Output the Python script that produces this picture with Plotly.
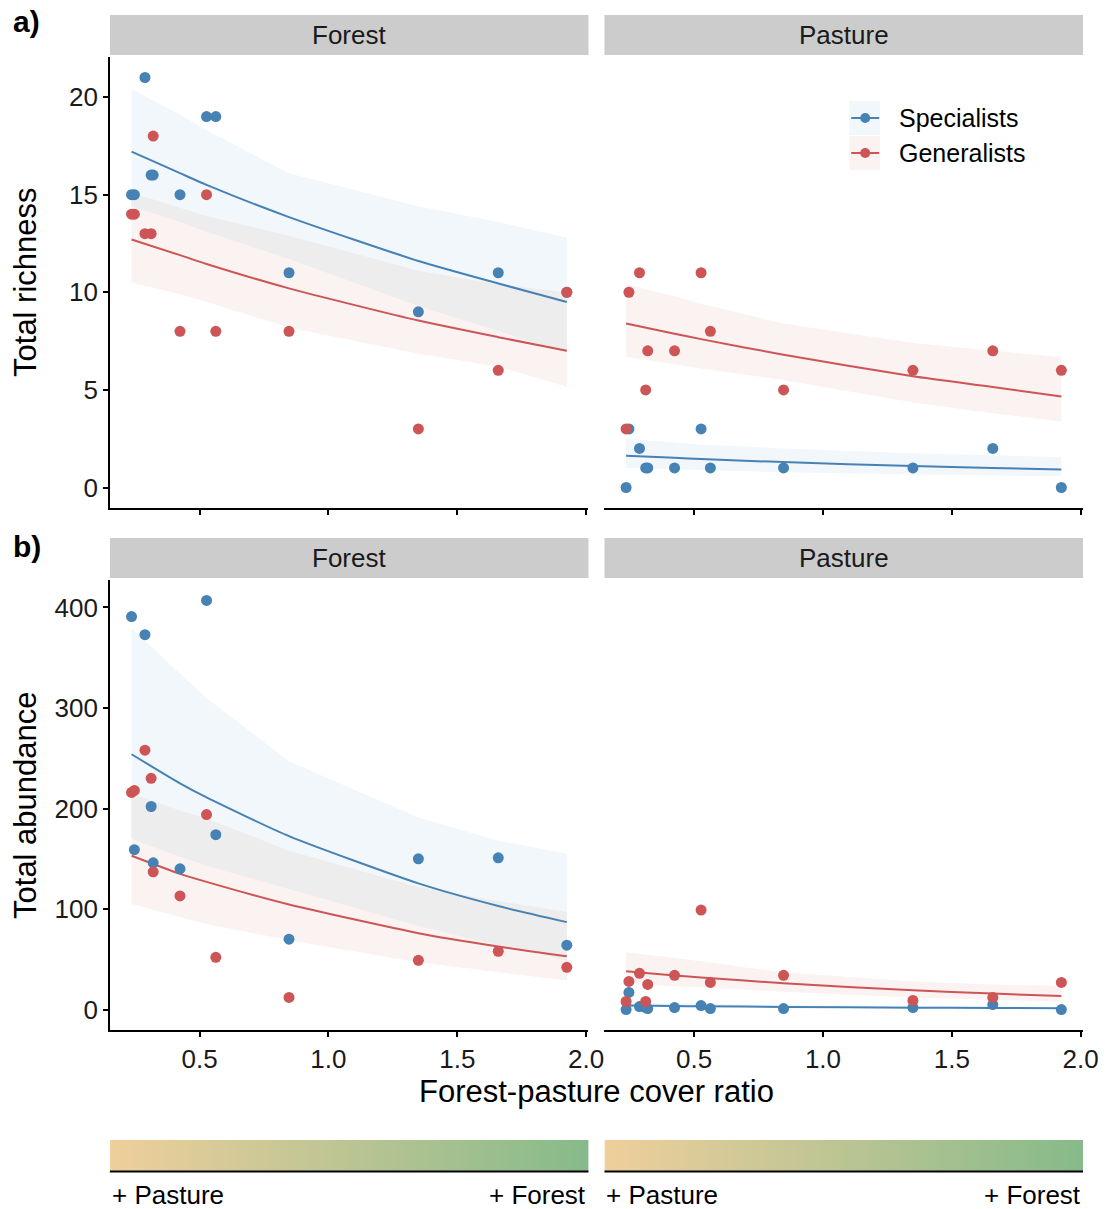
import numpy as np
import plotly.graph_objects as go

W, H = 1107, 1209
# the page is drawn with a 15 px vertical scrollbar, so the usable width is 1092 px
W_EFF = 1092

# ---------------- data ----------------
sites = [0.236, 0.247, 0.288, 0.312, 0.320, 0.424, 0.527, 0.563, 0.847, 1.349, 1.659, 1.925]

rich_forest_spec = [15, 15, 21, 16, 16, 15, 19, 19, 11, 9, 11, 10]
rich_forest_gen = [14, 14, 13, 13, 18, 8, 15, 8, 8, 3, 6, 10]
rich_pasture_spec = [0, 3, 2, 1, 1, 1, 3, 1, 1, 1, 2, 0]
rich_pasture_gen = [3, 10, 11, 5, 7, 7, 11, 8, 5, 6, 7, 6]

abun_forest_spec = [391, 159, 373, 202, 146, 140, 407, 174, 70, 150, 151, 64]
abun_forest_gen = [216, 218, 258, 230, 137, 113, 194, 52, 12, 49, 58, 42]
abun_pasture_spec = [0, 17, 3, 2, 1, 2, 4, 1, 1, 2, 5, 0]
abun_pasture_gen = [8, 28, 36, 8, 25, 34, 99, 27, 34, 9, 12, 27]

x_fit = [0.236, 0.424, 0.527, 0.847, 1.349, 1.659, 1.925]

rf_spec_fit = [17.2, 16.1, 15.5, 13.85, 11.6, 10.45, 9.5]
rf_spec_hi = [20.4, 19.1, 18.3, 16.1, 14.4, 13.6, 12.8]
rf_spec_lo = [14.4, 13.6, 13.1, 11.7, 9.3, 8.0, 6.9]
rf_gen_fit = [12.7, 11.9, 11.45, 10.2, 8.55, 7.7, 7.0]
rf_gen_hi = [15.1, 14.3, 13.9, 12.9, 11.1, 10.4, 10.0]
rf_gen_lo = [10.5, 9.9, 9.5, 8.2, 6.85, 6.2, 5.15]

rp_spec_fit = [1.62, 1.52, 1.46, 1.3, 1.1, 1.0, 0.92]
rp_spec_hi = [2.5, 2.3, 2.2, 2.0, 1.75, 1.65, 1.56]
rp_spec_lo = [1.0, 0.95, 0.9, 0.78, 0.67, 0.61, 0.58]
rp_gen_fit = [8.4, 7.87, 7.6, 6.8, 5.7, 5.15, 4.66]
rp_gen_hi = [10.4, 9.8, 9.4, 8.4, 7.4, 7.0, 6.67]
rp_gen_lo = [6.7, 6.3, 6.1, 5.5, 4.35, 3.8, 3.38]

af_spec_fit = [254, 225, 211, 172.5, 125.5, 103, 87]
af_spec_hi = [379, 335, 310, 247, 191, 168, 155]
af_spec_lo = [170, 152, 143, 120, 83, 64, 49]
af_gen_fit = [153, 135, 127, 104.5, 76, 62.7, 53]
af_gen_hi = [215, 198, 190, 158, 122, 108, 97]
af_gen_lo = [105, 92, 85, 69, 47, 37, 29]

ap_spec_fit = [4.0, 3.5, 3.3, 2.6, 1.9, 1.6, 1.4]
ap_spec_hi = [7.0, 6.0, 5.6, 4.5, 3.4, 3.0, 2.8]
ap_spec_lo = [2.3, 2.0, 1.9, 1.5, 1.05, 0.85, 0.7]
ap_gen_fit = [38, 33.9, 31.9, 26.1, 19.2, 15.9, 13.5]
ap_gen_hi = [57, 51, 48, 37, 28, 25, 23.4]
ap_gen_lo = [25.7, 23.5, 22.5, 17.8, 12.0, 9.6, 7.8]

groups = ["Specialists", "Generalists"]
facets = ["Forest", "Pasture"]
x_ticks = [0.5, 1.0, 1.5, 2.0]
rich_ticks = [0, 5, 10, 15, 20]
abun_ticks = [0, 100, 200, 300, 400]

# ---------------- styles ----------------
FONT = "Liberation Sans, Arial, Helvetica, sans-serif"
BLUE = "#4682B4"
RED = "#CD5555"
BLUE_F = "#F2F7FB"
RED_F = "#FBF2F2"
BOTH_F = "#EEEDEE"


def px(x):
    return x / W_EFF


def py(y):
    return 1 - y / H


fig = go.Figure()

panels = [
    ("x", "y", rich_forest_spec, rich_forest_gen,
     (rf_spec_fit, rf_spec_hi, rf_spec_lo), (rf_gen_fit, rf_gen_hi, rf_gen_lo)),
    ("x2", "y2", rich_pasture_spec, rich_pasture_gen,
     (rp_spec_fit, rp_spec_hi, rp_spec_lo), (rp_gen_fit, rp_gen_hi, rp_gen_lo)),
    ("x3", "y3", abun_forest_spec, abun_forest_gen,
     (af_spec_fit, af_spec_hi, af_spec_lo), (af_gen_fit, af_gen_hi, af_gen_lo)),
    ("x4", "y4", abun_pasture_spec, abun_pasture_gen,
     (ap_spec_fit, ap_spec_hi, ap_spec_lo), (ap_gen_fit, ap_gen_hi, ap_gen_lo)),
]

for xa, ya, sp, ge, fs, fg in panels:
    # confidence ribbons
    for (fit, hi, lo), fill in ((fs, BLUE_F), (fg, RED_F)):
        fig.add_trace(go.Scatter(
            x=x_fit + x_fit[::-1], y=hi + lo[::-1], fill="toself",
            fillcolor=fill, line=dict(width=0), mode="lines",
            xaxis=xa, yaxis=ya, showlegend=False, hoverinfo="skip"))
    # overlap of the two ribbons (grey)
    ov_hi = [min(a, b) for a, b in zip(fs[1], fg[1])]
    ov_lo = [max(a, b) for a, b in zip(fs[2], fg[2])]
    if all(h > l for h, l in zip(ov_hi, ov_lo)):
        fig.add_trace(go.Scatter(
            x=x_fit + x_fit[::-1], y=ov_hi + ov_lo[::-1], fill="toself",
            fillcolor=BOTH_F, line=dict(width=0), mode="lines",
            xaxis=xa, yaxis=ya, showlegend=False, hoverinfo="skip"))
    # fitted lines
    for (fit, hi, lo), col, name in ((fs, BLUE, groups[0]), (fg, RED, groups[1])):
        fig.add_trace(go.Scatter(
            x=x_fit, y=fit, mode="lines", line=dict(color=col, width=2, shape="spline", smoothing=0.6),
            xaxis=xa, yaxis=ya, showlegend=False, name=name))
    # observed points
    for vals, col, name in ((sp, BLUE, groups[0]), (ge, RED, groups[1])):
        fig.add_trace(go.Scatter(
            x=sites, y=vals, mode="markers", marker=dict(color=col, size=11),
            xaxis=xa, yaxis=ya, showlegend=False, name=name))

# gradient bars
grad = np.linspace(0, 1, 256)
for xa, ya in (("x5", "y5"), ("x6", "y6")):
    fig.add_trace(go.Heatmap(
        z=[grad], x=grad, y=[0], colorscale=[[0, "#EFCF9C"], [1, "#86BA8A"]],
        showscale=False, zsmooth="best", xaxis=xa, yaxis=ya, hoverinfo="skip"))

# ---------------- layout ----------------
colL = [px(110), px(589)]
colR = [px(605), px(1084)]
rowT = [py(508), py(57)]
rowB = [py(1030), py(580)]
barY = [py(1171), py(1140)]

tickfont = dict(family=FONT, size=26, color="#1a1a1a")


def xax(domain, anchor, labels):
    return dict(domain=domain, anchor=anchor, range=[0.152, 2.009], showgrid=False, zeroline=False,
                showline=True, linecolor="black", linewidth=1.5, ticks="outside", ticklen=5,
                tickwidth=1.5, tickcolor="black", tickvals=x_ticks,
                ticktext=["0.5", "1.0", "1.5", "2.0"], showticklabels=labels, tickfont=tickfont)


def yax(domain, anchor, rng, tv, show):
    d = dict(domain=domain, anchor=anchor, range=rng, showgrid=False, zeroline=False)
    if show:
        d.update(showline=True, linecolor="black", linewidth=1.5, ticks="outside", ticklen=5,
                 tickwidth=1.5, tickcolor="black", tickvals=tv, tickfont=tickfont)
    else:
        d.update(showline=False, ticks="", showticklabels=False, tickvals=tv)
    return d


rich_rng = [-1.05, 22.05]
abun_rng = [-20.35, 427.35]

hidden = dict(visible=False, showgrid=False, zeroline=False)

fig.update_layout(
    width=W, height=H, margin=dict(l=0, r=0, t=0, b=0),
    paper_bgcolor="white", plot_bgcolor="rgba(0,0,0,0)",
    font=dict(family=FONT, color="black"),
    showlegend=False,
    xaxis=xax(colL, "y", False), yaxis=yax(rowT, "x", rich_rng, rich_ticks, True),
    xaxis2=xax(colR, "y2", False), yaxis2=yax(rowT, "x2", rich_rng, rich_ticks, False),
    xaxis3=xax(colL, "y3", True), yaxis3=yax(rowB, "x3", abun_rng, abun_ticks, True),
    xaxis4=xax(colR, "y4", True), yaxis4=yax(rowB, "x4", abun_rng, abun_ticks, False),
    xaxis5=dict(domain=colL, anchor="y5", range=[0, 1], **hidden),
    yaxis5=dict(domain=barY, anchor="x5", range=[-0.5, 0.5], **hidden),
    xaxis6=dict(domain=colR, anchor="y6", range=[0, 1], **hidden),
    yaxis6=dict(domain=barY, anchor="x6", range=[-0.5, 0.5], **hidden),
)

shapes = []
annotations = []

# strips
for (y0, y1) in ((15, 55), (538, 578)):
    for (x0, x1), lab in (((110, 589), facets[0]), ((605, 1084), facets[1])):
        shapes.append(dict(type="rect", xref="paper", yref="paper", x0=px(x0), x1=px(x1),
                           y0=py(y1), y1=py(y0), fillcolor="#CCCCCC", line=dict(width=0), layer="below"))
        annotations.append(dict(text=lab, xref="paper", yref="paper", x=px((x0 + x1) / 2),
                                y=py((y0 + y1) / 2), showarrow=False, xanchor="center", yanchor="middle",
                                font=dict(family=FONT, size=26, color="#1a1a1a")))

# bar underlines and labels
for x0, x1 in ((110, 589), (605, 1084)):
    shapes.append(dict(type="line", xref="paper", yref="paper", x0=px(x0), x1=px(x1),
                       y0=py(1171.5), y1=py(1171.5), line=dict(color="black", width=2)))
    annotations.append(dict(text="+ Pasture", xref="paper", yref="paper", x=px(x0), y=py(1195),
                            showarrow=False, xanchor="left", yanchor="middle",
                            font=dict(family=FONT, size=26, color="black")))
    annotations.append(dict(text="+ Forest", xref="paper", yref="paper", x=px(x1), y=py(1195),
                            showarrow=False, xanchor="right", yanchor="middle",
                            font=dict(family=FONT, size=26, color="black")))

# legend (manual, ggplot-style keys)
for (yc, col, fill, lab) in ((118, BLUE, BLUE_F, groups[0]), (153, RED, RED_F, groups[1])):
    shapes.append(dict(type="rect", xref="paper", yref="paper", x0=px(850), x1=px(881),
                       y0=py(yc + 17), y1=py(yc - 17), fillcolor=fill, line=dict(width=0)))
    shapes.append(dict(type="line", xref="paper", yref="paper", x0=px(852), x1=px(880),
                       y0=py(yc), y1=py(yc), line=dict(color=col, width=2)))
    shapes.append(dict(type="circle", xref="paper", yref="paper", x0=px(861), x1=px(871),
                       y0=py(yc + 5), y1=py(yc - 5), fillcolor=col, line=dict(width=0)))
    annotations.append(dict(text=lab, xref="paper", yref="paper", x=px(898), y=py(yc),
                            showarrow=False, xanchor="left", yanchor="middle",
                            font=dict(family=FONT, size=25, color="black")))

# axis titles
annotations.append(dict(text="Total richness", xref="paper", yref="paper", x=px(25), y=py(282),
                        showarrow=False, textangle=-90, xanchor="center", yanchor="middle",
                        font=dict(family=FONT, size=31, color="black")))
annotations.append(dict(text="Total abundance", xref="paper", yref="paper", x=px(25), y=py(805),
                        showarrow=False, textangle=-90, xanchor="center", yanchor="middle",
                        font=dict(family=FONT, size=31, color="black")))
annotations.append(dict(text="Forest-pasture cover ratio", xref="paper", yref="paper", x=px(597),
                        y=py(1091), showarrow=False, xanchor="center", yanchor="middle",
                        font=dict(family=FONT, size=31, color="black")))
# panel tags
annotations.append(dict(text="<b>a)</b>", xref="paper", yref="paper", x=px(11), y=py(22),
                        showarrow=False, xanchor="left", yanchor="middle",
                        font=dict(family=FONT, size=30, color="black")))
annotations.append(dict(text="<b>b)</b>", xref="paper", yref="paper", x=px(11), y=py(547),
                        showarrow=False, xanchor="left", yanchor="middle",
                        font=dict(family=FONT, size=30, color="black")))

fig.update_layout(shapes=shapes, annotations=annotations)

fig.write_html("out.html")
